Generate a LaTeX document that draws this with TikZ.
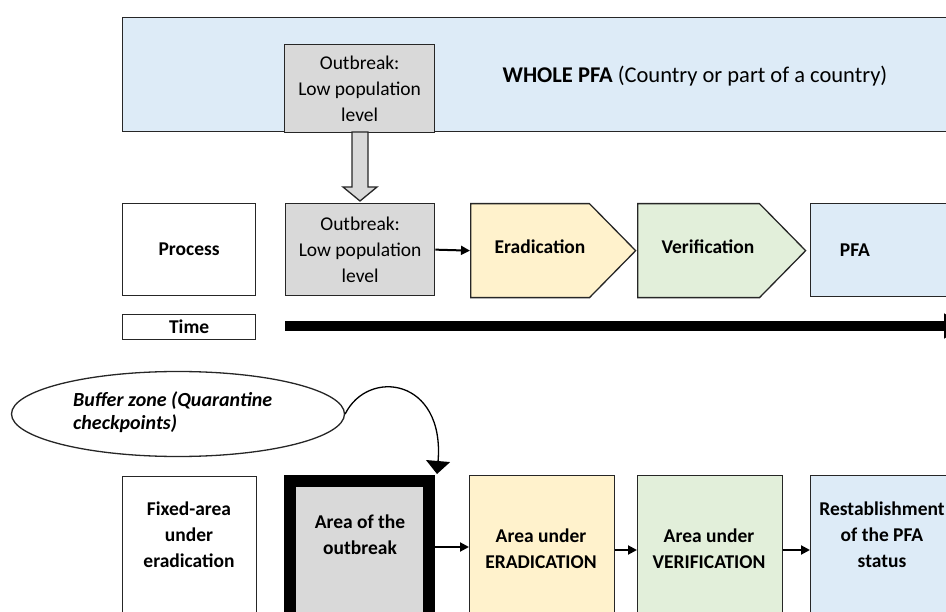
\documentclass[tikz,border=0pt]{standalone}
\usepackage{fontspec}
\setmainfont{Carlito}
\usetikzlibrary{shapes.geometric,shapes.symbols,arrows.meta}
\definecolor{pblue}{HTML}{DDEBF7}
\definecolor{pgrey}{HTML}{D9D9D9}
\definecolor{pyellow}{HTML}{FFF2CC}
\definecolor{pgreen}{HTML}{E2EFDA}
\begin{document}
\begin{tikzpicture}[x=1pt,y=-1pt,
  font=\fontsize{19.5}{26}\selectfont,
  box/.style={draw=black!85, line width=1.3pt, inner sep=0pt, align=center, anchor=north west},
  txt/.style={align=center, inner sep=0pt},
  conn/.style={-{Triangle[length=9pt,width=9pt]}, line width=2pt}]
\useasboundingbox (0,0) rectangle (946,612);
\clip (0,0) rectangle (946,612);

% top band
\node[box, fill=pblue, minimum width=900, minimum height=114] (whole) at (122,17) {};
\node[txt, font=\fontsize{22.5}{27}\selectfont] (wholetxt) at (695,76) {\textbf{WHOLE PFA} (Country or part of a country)};
\node[box, fill=pgrey, minimum width=150, minimum height=88] (ob1) at (284,44) {Outbreak:\\Low population\\level};

% block arrow down
\draw[draw=black!85, line width=1.3pt, fill=pgrey, line join=miter]
  (352,132) -- (352,187) -- (343,187) -- (360,201) -- (377,187) -- (368,187) -- (368,132) -- cycle;

% process row
\node[box, minimum width=133, minimum height=92] (process) at (122,203) {\textbf{Process}};
\node[box, fill=pgrey, minimum width=149, minimum height=92] (ob2) at (285,203) {Outbreak:\\Low population\\level};
\node[draw=black!85, line width=1.3pt, fill=pyellow, signal, signal to=east, signal pointer angle=91,
  minimum width=165, minimum height=94, inner sep=0pt, anchor=north west] (erad) at (470,203) {};
\node[txt] (eradtxt) at (540,247) {\textbf{Eradication}};
\node[draw=black!85, line width=1.3pt, fill=pgreen, signal, signal to=east, signal pointer angle=91,
  minimum width=168, minimum height=94, inner sep=0pt, anchor=north west] (verif) at (637,203) {};
\node[txt] (veriftxt) at (708,247) {\textbf{Verification}};
\node[box, fill=pblue, minimum width=200, minimum height=93] (pfa) at (810,203) {};
\node[txt] (pfatxt) at (855,250) {\textbf{PFA}};
\draw[conn] (ob2.east) -- (erad.west);

% time row
\node[box, minimum width=133, minimum height=25] (time) at (122,314) {\textbf{Time}};
\coordinate (tstart) at (285,326);
\coordinate (tend) at (964,326);
\draw[line width=10pt, -{Triangle[length=20pt,width=24pt]}] (tstart) -- (tend);

% buffer zone
\node[draw=black!85, line width=1.3pt, ellipse, minimum width=333, minimum height=85] (buf) at (178,414) {};
\node[align=left, inner sep=0pt, anchor=west, font=\fontsize{20}{23.5}\selectfont\bfseries\itshape] (buftxt) at (73,412) {Buffer zone (Quarantine\\checkpoints)};

% bottom row
\node[box, minimum width=134, minimum height=250] (fixed) at (122,476) {};
\node[txt] (fixedtxt) at (189,535) {\textbf{Fixed-area}\\\textbf{under}\\\textbf{eradication}};
\node[draw=black, line width=12pt, fill=pgrey, minimum width=139, minimum height=250, inner sep=0pt, anchor=north west] (ob3) at (284,475) {};
\node[txt] (ob3txt) at (360,535) {\textbf{Area of the}\\\textbf{outbreak}};
\node[box, fill=pyellow, minimum width=145, minimum height=250] (erad3) at (469,475) {};
\node[txt] (erad3txt) at (541,549) {\textbf{Area under}\\\textbf{ERADICATION}};
\node[box, fill=pgreen, minimum width=145, minimum height=250] (verif3) at (637,475) {};
\node[txt] (verif3txt) at (709,549) {\textbf{Area under}\\\textbf{VERIFICATION}};
\node[box, fill=pblue, minimum width=200, minimum height=250] (rest) at (810,475) {};
\node[txt] (resttxt) at (882,535) {\textbf{Restablishment}\\\textbf{of the PFA}\\\textbf{status}};

\draw[line width=1.3pt, -{Triangle[length=13pt,width=24pt]}] (buf.east) .. controls (368,368) and (445,378) .. (437,474);
\draw[conn] (ob3.east |- 0,547) -- (erad3.west |- 0,547);
\draw[conn] (erad3.east |- 0,550) -- (verif3.west |- 0,550);
\draw[conn] (verif3.east |- 0,550) -- (rest.west |- 0,550);
\end{tikzpicture}
\end{document}
